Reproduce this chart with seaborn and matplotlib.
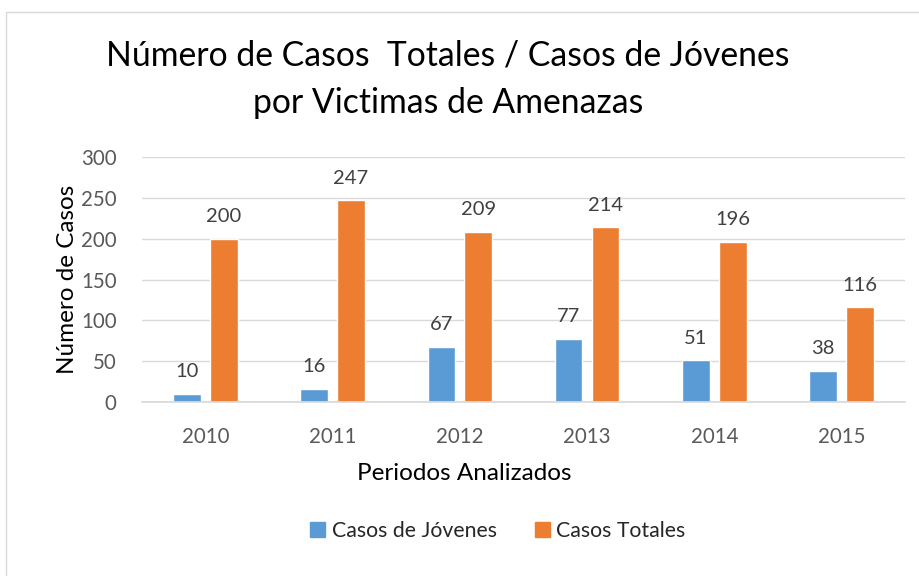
import matplotlib
matplotlib.use("Agg")
import matplotlib.pyplot as plt
import seaborn as sns
import pandas as pd
from matplotlib.lines import Line2D

years = ["2010", "2011", "2012", "2013", "2014", "2015"]
jovenes = [10, 16, 67, 77, 51, 38]
totales = [200, 247, 209, 214, 196, 116]
series_names = ["Casos de Jóvenes", "Casos Totales"]
colors = ["#5B9BD5", "#ED7D31"]

df = pd.DataFrame({
    "Periodo": years * 2,
    "Casos": jovenes + totales,
    "Serie": [series_names[0]] * len(years) + [series_names[1]] * len(years),
})

sns.set_theme(style="white")
plt.rcParams["font.family"] = ["Lato", "DejaVu Sans"]

fig = plt.figure(figsize=(9.2, 5.76), dpi=100)
ax = fig.add_axes([0.154, 0.302, 0.83, 0.425])

sns.barplot(data=df, x="Periodo", y="Casos", hue="Serie", palette=colors,
            width=0.58, gap=0.25, ax=ax, legend=False, saturation=1)

for cont in ax.containers:
    ax.bar_label(cont, padding=10, fontsize=14.5, color="#404040")

ax.set_ylim(0, 300)
ax.set_yticks([0, 50, 100, 150, 200, 250, 300])
ax.yaxis.grid(True, color="#D9D9D9", linewidth=1)
ax.set_axisbelow(True)
for s in ["top", "right", "left"]:
    ax.spines[s].set_visible(False)
ax.spines["bottom"].set_color("#D9D9D9")
ax.tick_params(axis="both", length=0, labelsize=14.8, labelcolor="#595959")
ax.tick_params(axis="y", pad=18)
ax.tick_params(axis="x", pad=18)
ax.set_xlabel("Periodos Analizados", fontsize=17.5, color="black")
ax.xaxis.set_label_coords((464 - 142) / 763, -0.248)
ax.set_ylabel("Número de Casos", fontsize=17.5, color="black", labelpad=2)

fig.text(0.487, 0.903, "Número de Casos  Totales / Casos de Jóvenes",
         ha="center", va="center", fontsize=24.3, color="black")
fig.text(0.487, 0.822, "por Victimas de Amenazas",
         ha="center", va="center", fontsize=24.3, color="black")

handles = [plt.Rectangle((0, 0), 1, 1, color=c) for c in colors]
fig.legend(handles, series_names, loc="center", bbox_to_anchor=(498 / 920, 0.078),
           ncol=2, frameon=False, fontsize=15.3, handlelength=0.7,
           handleheight=0.7, columnspacing=1.8, handletextpad=0.3)

fig.add_artist(Line2D([6 / 920, 6 / 920], [0, 1 - 12 / 576], transform=fig.transFigure,
                      color="#D9D9D9", linewidth=1))
fig.add_artist(Line2D([6 / 920, 1], [1 - 12 / 576, 1 - 12 / 576], transform=fig.transFigure,
                      color="#D9D9D9", linewidth=1))

fig.savefig("out.png", dpi=100)
